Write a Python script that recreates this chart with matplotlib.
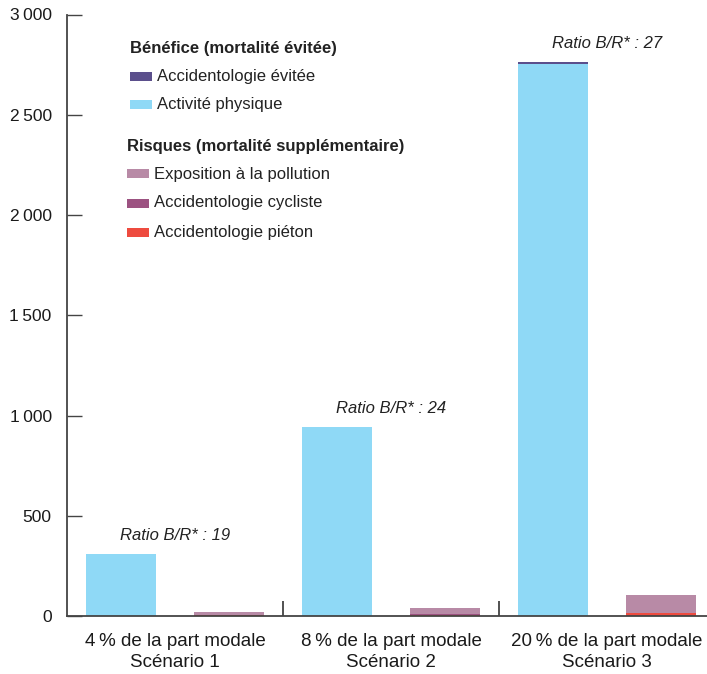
import matplotlib
matplotlib.use("Agg")
import matplotlib.pyplot as plt
from matplotlib.patches import Rectangle
from matplotlib.font_manager import fontManager
import numpy as np

# ---------------- data ----------------
scenarios = ["4\u2009% de la part modale\nScénario 1",
             "8\u2009% de la part modale\nScénario 2",
             "20\u2009% de la part modale\nScénario 3"]
activite_physique = [308, 942, 2755]
accidento_evitee = [1, 2, 6]
pollution = [16, 32, 88]
accidento_cycliste = [1, 2, 4]
accidento_pieton = [3, 7, 13]
ratios = [19, 24, 27]
yticks = [0, 500, 1000, 1500, 2000, 2500, 3000]
ytick_labels = ["0", "500", "1\u2009000", "1\u2009500", "2\u2009000", "2\u2009500", "3\u2009000"]

c_evitee = "#5b4f8c"
c_activite = "#8fd9f6"
c_pollution = "#b88aa6"
c_cycliste = "#9c5281"
c_pieton = "#ee4b3f"

names = {f.name for f in fontManager.ttflist}
regular = "Liberation Sans" if "Liberation Sans" in names else "DejaVu Sans"
narrow = "Liberation Sans Narrow" if "Liberation Sans Narrow" in names else regular
plt.rcParams["font.family"] = [regular, "DejaVu Sans"]

W, H = 707, 674
fig = plt.figure(figsize=(W / 100, H / 100), dpi=100)
x0, x1, ytop, ybot = 67, 707, 14.5, 616
ax = fig.add_axes([x0 / W, (H - ybot) / H, (x1 - x0) / W, (ybot - ytop) / H])

group_px = 216
n = len(scenarios)
ax.set_xlim(0, (x1 - x0) / group_px)
ax.set_ylim(0, 3000)
idx = np.arange(n)
bw = 70 / group_px
xb = idx + 54 / group_px
xr = idx + 162 / group_px

ax.bar(xb, activite_physique, width=bw, color=c_activite, linewidth=0)
ax.bar(xb, accidento_evitee, width=bw, bottom=activite_physique, color=c_evitee, linewidth=0)
b1 = np.array(accidento_pieton)
ax.bar(xr, accidento_pieton, width=bw, color=c_pieton, linewidth=0)
ax.bar(xr, accidento_cycliste, width=bw, bottom=b1, color=c_cycliste, linewidth=0)
b2 = b1 + np.array(accidento_cycliste)
ax.bar(xr, pollution, width=bw, bottom=b2, color=c_pollution, linewidth=0)

for i in range(n):
    top = activite_physique[i] + accidento_evitee[i]
    ax.annotate(f"Ratio B/R* : {ratios[i]}", xy=(i + 0.5, top), xytext=(0, 8),
                textcoords="offset points", ha="center", va="bottom",
                fontsize=12, style="italic", family=[narrow, "DejaVu Sans"], color="#222222")

# group separators
for i in range(1, n):
    ax.plot([i, i], [0, 75], color="#333333", lw=1.2, solid_capstyle="butt", clip_on=False)

for s in ["top", "right"]:
    ax.spines[s].set_visible(False)
for s in ["left", "bottom"]:
    ax.spines[s].set_color("#444444")
    ax.spines[s].set_linewidth(1.3)

ax.set_yticks(yticks)
ax.set_yticklabels(ytick_labels)
ax.tick_params(axis="y", direction="in", length=11, width=1.0, color="#444444",
               pad=11, labelsize=12.5, labelcolor="#1a1a1a")
ax.set_xticks(idx + 0.5)
ax.set_xticklabels(scenarios, linespacing=1.35)
ax.tick_params(axis="x", length=0, pad=12, labelsize=13.5, labelcolor="#1a1a1a")

# legend drawn manually
def fx(px):
    return px / W

def fy(py):
    return (H - py) / H

fig.text(fx(130), fy(48), "Bénéfice (mortalité évitée)", fontsize=12, weight="bold",
         family=[narrow, "DejaVu Sans"], va="center", ha="left", color="#222222")
fig.text(fx(127), fy(146), "Risques (mortalité supplémentaire)", fontsize=12, weight="bold",
         family=[narrow, "DejaVu Sans"], va="center", ha="left", color="#222222")
entries = [(130, 157, 76, c_evitee, "Accidentologie évitée"),
           (130, 157, 104, c_activite, "Activité physique"),
           (127, 154, 174, c_pollution, "Exposition à la pollution"),
           (127, 154, 203, c_cycliste, "Accidentologie cycliste"),
           (127, 154, 232, c_pieton, "Accidentologie piéton")]
for px, tx, py, col, lab in entries:
    fig.patches.append(Rectangle((fx(px), fy(py + 4.5)), 22 / W, 9 / H, transform=fig.transFigure,
                                 facecolor=col, edgecolor="none"))
    fig.text(fx(tx), fy(py), lab, fontsize=12, family=[narrow, "DejaVu Sans"],
             va="center", ha="left", color="#222222")

fig.savefig("out.png", dpi=100)
